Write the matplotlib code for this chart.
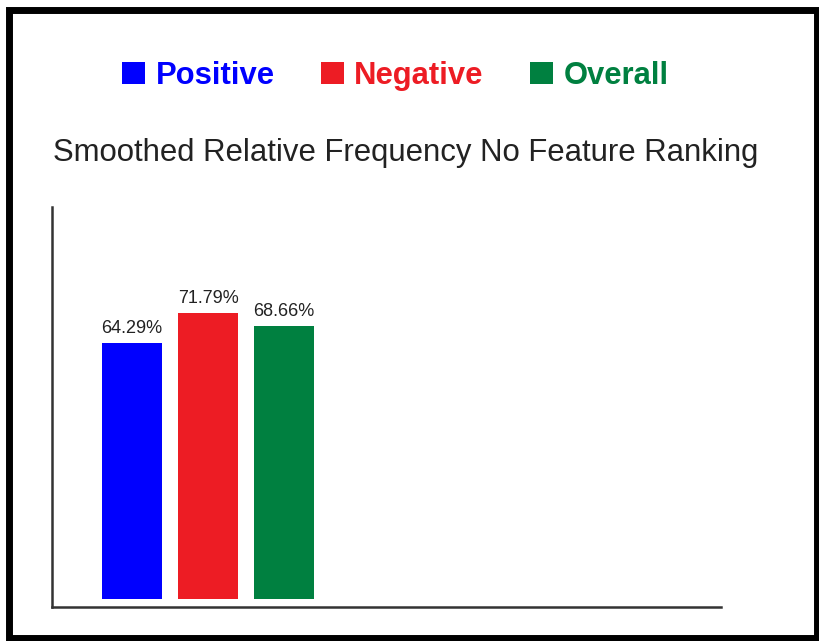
import matplotlib
matplotlib.use('Agg')
import matplotlib.pyplot as plt
from matplotlib.patches import Rectangle, Patch

plt.rcParams['font.family'] = ['Liberation Sans', 'DejaVu Sans']

# Dados
categorias = ['Positive', 'Negative', 'Overall']
valores = [64.29, 71.79, 68.66]
cores = ['#0000FF', '#ED1C24', '#008040']
titulo = 'Smoothed Relative Frequency No Feature Ranking'

fig = plt.figure(figsize=(8.2, 6.41), dpi=100)
ax = fig.add_axes([0.0634, 0.0530, 0.8159, 0.624])

posicoes = list(range(len(categorias)))
barras = ax.bar(posicoes, valores, width=0.79, color=cores)
ax.bar_label(barras, labels=[f'{v:.2f}%' for v in valores],
             padding=4.5, fontsize=13, color='#222222')

ax.set_xlim(-1.053, 7.75)
ax.set_ylim(-2, 98.5)
ax.set_xticks([])
ax.set_yticks([])
for lado in ['top', 'right']:
    ax.spines[lado].set_visible(False)
for lado in ['left', 'bottom']:
    ax.spines[lado].set_linewidth(1.8)
    ax.spines[lado].set_color('#333333')

# Título
fig.text(53 / 820, 1 - 161 / 641, titulo, fontsize=22.4, color='#222222',
         ha='left', va='baseline')

# Legenda
handles = [Patch(facecolor=c, edgecolor='none') for c in cores]
leg = fig.legend(handles, categorias, loc='center left',
                 bbox_to_anchor=(122 / 820, 1 - 76 / 641),
                 bbox_transform=fig.transFigure, ncol=3, frameon=False,
                 borderpad=0, borderaxespad=0, handlelength=0.74,
                 handleheight=0.72, handletextpad=0.34, columnspacing=1.5,
                 prop={'size': 22.3, 'weight': 'bold'})
for txt, c in zip(leg.get_texts(), cores):
    txt.set_color(c)

# Moldura preta
fig.patches.append(Rectangle((9 / 820, 3.5 / 641), 808 / 820, 627.5 / 641,
                             transform=fig.transFigure, fill=False,
                             edgecolor='black', linewidth=5))

fig.savefig('out.png', dpi=100)
